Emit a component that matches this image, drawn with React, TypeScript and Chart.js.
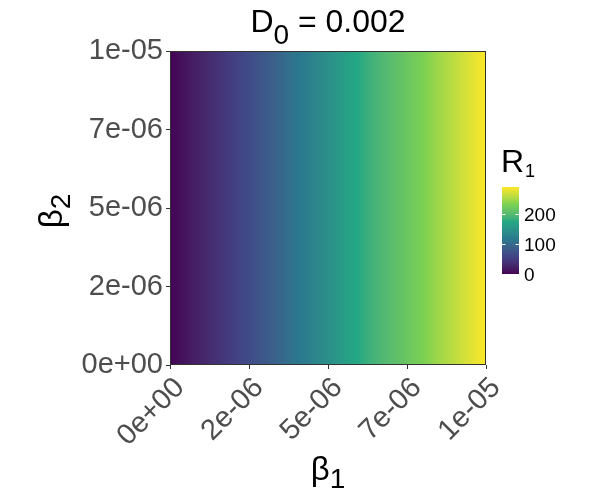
import React, { useEffect, useRef } from "react";
import { Chart, registerables } from "chart.js";

Chart.register(...registerables);

// ---- data ----
const beta1Values = [
  0, 0.5e-6, 1e-6, 1.5e-6, 2e-6, 2.5e-6, 3e-6, 3.5e-6, 4e-6, 4.5e-6, 5e-6,
  5.5e-6, 6e-6, 6.5e-6, 7e-6, 7.5e-6, 8e-6, 8.5e-6, 9e-6, 9.5e-6, 1e-5,
];
const r1Values = [
  0, 13, 26, 39, 52, 66, 81, 97, 113, 129, 144, 160, 176, 190, 203, 217, 231,
  246, 260, 275, 290,
];
const beta2Range = [0, 1e-5];
const xTickValues = [0, 2.5e-6, 5e-6, 7.5e-6, 1e-5];
const xTickLabels = ["0e+00", "2e-06", "5e-06", "7e-06", "1e-05"];
const yTickValues = [0, 2.5e-6, 5e-6, 7.5e-6, 1e-5];
const yTickLabels = ["0e+00", "2e-06", "5e-06", "7e-06", "1e-05"];
const legendTickValues = [0, 100, 200];
const legendTickLabels = ["0", "100", "200"];
const viridisStops = ["#440154", "#414487", "#2A788E", "#22A884", "#7AD151", "#FDE725"];

const FONT = "'Liberation Sans', Arial, sans-serif";
const r1Min = Math.min(...r1Values);
const r1Max = Math.max(...r1Values);

// ---- colour helpers (Lab interpolation like ggplot's gradient_n_pal) ----
function hexToLab(hex: string) {
  const h = hex.replace("#", "");
  const rgb = [0, 2, 4].map((i) => parseInt(h.slice(i, i + 2), 16) / 255);
  const lin = rgb.map((c) => (c <= 0.04045 ? c / 12.92 : Math.pow((c + 0.055) / 1.055, 2.4)));
  const [R, G, B] = lin;
  const X = (0.4124 * R + 0.3576 * G + 0.1805 * B) / 0.95047;
  const Y = 0.2126 * R + 0.7152 * G + 0.0722 * B;
  const Z = (0.0193 * R + 0.1192 * G + 0.9505 * B) / 1.08883;
  const f = (t: number) => (t > 0.008856 ? Math.cbrt(t) : 7.787 * t + 16 / 116);
  const fx = f(X), fy = f(Y), fz = f(Z);
  return [116 * fy - 16, 500 * (fx - fy), 200 * (fy - fz)];
}
function labToRgb(L: number, a: number, b: number) {
  const fy = (L + 16) / 116;
  const fx = fy + a / 500;
  const fz = fy - b / 200;
  const inv = (t: number) => (t * t * t > 0.008856 ? t * t * t : (t - 16 / 116) / 7.787);
  const X = inv(fx) * 0.95047, Y = inv(fy), Z = inv(fz) * 1.08883;
  const R = 3.2406 * X - 1.5372 * Y - 0.4986 * Z;
  const G = -0.9689 * X + 1.8758 * Y + 0.0415 * Z;
  const B = 0.0557 * X - 0.204 * Y + 1.057 * Z;
  const g = (c: number) => {
    const v = c <= 0.0031308 ? 12.92 * c : 1.055 * Math.pow(c, 1 / 2.4) - 0.055;
    return Math.round(Math.max(0, Math.min(1, v)) * 255);
  };
  return `rgb(${g(R)},${g(G)},${g(B)})`;
}
const labStops = viridisStops.map(hexToLab);
function colorAt(t: number) {
  const tt = Math.max(0, Math.min(1, t));
  const n = labStops.length - 1;
  const s = tt * n;
  const i = Math.min(Math.floor(s), n - 1);
  const f = s - i;
  const a = labStops[i], b = labStops[i + 1];
  return labToRgb(a[0] + (b[0] - a[0]) * f, a[1] + (b[1] - a[1]) * f, a[2] + (b[2] - a[2]) * f);
}
const norm = (v: number) => (v - r1Min) / (r1Max - r1Min);

function heatGradient(chart: any) {
  const { ctx, chartArea, scales } = chart;
  if (!chartArea || !scales.x) return "rgba(0,0,0,0)";
  const xs = scales.x;
  const last = beta1Values.length - 1;
  const p0 = xs.getPixelForValue(beta1Values[0]);
  const p1 = xs.getPixelForValue(beta1Values[last]);
  const g = ctx.createLinearGradient(p0, 0, p1, 0);
  const sub = 12;
  for (let i = 0; i < last; i++) {
    const pa = xs.getPixelForValue(beta1Values[i]);
    const pb = xs.getPixelForValue(beta1Values[i + 1]);
    for (let k = 0; k < sub; k++) {
      const t = k / sub;
      const px = pa + (pb - pa) * t;
      const v = r1Values[i] + (r1Values[i + 1] - r1Values[i]) * t;
      g.addColorStop((px - p0) / (p1 - p0), colorAt(norm(v)));
    }
  }
  g.addColorStop(1, colorAt(norm(r1Values[last])));
  return g;
}

type Part = { t: string; size: number; dy: number; family?: string };
function drawParts(ctx: CanvasRenderingContext2D, cx: number, y: number, parts: Part[]) {
  let total = 0;
  const widths = parts.map((p) => {
    ctx.font = `${p.size}px ${p.family || FONT}`;
    const w = ctx.measureText(p.t).width;
    total += w;
    return w;
  });
  let x = cx - total / 2;
  ctx.textAlign = "left";
  ctx.textBaseline = "alphabetic";
  parts.forEach((p, i) => {
    ctx.font = `${p.size}px ${p.family || FONT}`;
    ctx.fillText(p.t, x, y + p.dy);
    x += widths[i];
  });
}

const decorPlugin = {
  id: "decor",
  afterDatasetsDraw(chart: any) {
    const { ctx, chartArea } = chart;
    ctx.save();
    ctx.strokeStyle = "#333333";
    ctx.lineWidth = 1;
    ctx.strokeRect(chartArea.left + 0.5, chartArea.top + 0.5, chartArea.right - chartArea.left - 1, chartArea.bottom - chartArea.top - 1);
    ctx.restore();
  },
  afterDraw(chart: any) {
    const { ctx, chartArea } = chart;
    const cx = (chartArea.left + chartArea.right) / 2;
    const cy = (chartArea.top + chartArea.bottom) / 2;
    ctx.save();
    ctx.fillStyle = "#000000";
    // title
    drawParts(ctx, cx, 32, [
      { t: "D", size: 32, dy: 0 },
      { t: "0", size: 28, dy: 12 },
      { t: " = 0.002", size: 32, dy: 0 },
    ]);
    // x axis title
    drawParts(ctx, cx, 480, [
      { t: "β", size: 33, dy: 0 },
      { t: "1", size: 28, dy: 8 },
    ]);
    // y axis title (rotated)
    ctx.save();
    ctx.translate(62, cy + 3);
    ctx.rotate(-Math.PI / 2);
    drawParts(ctx, 0, 0, [
      { t: "β", size: 33, dy: 0 },
      { t: "2", size: 28, dy: 8 },
    ]);
    ctx.restore();

    // legend
    const barL = 502, barR = 519, barT = 187, barB = 274;
    const vy = (v: number) => barB - norm(v) * (barB - barT);
    const lg = ctx.createLinearGradient(0, barB, 0, barT);
    for (let k = 0; k <= 60; k++) {
      lg.addColorStop(k / 60, colorAt(k / 60));
    }
    ctx.fillStyle = lg;
    ctx.fillRect(barL, barT, barR - barL, barB - barT);
    ctx.strokeStyle = "#ffffff";
    ctx.lineWidth = 1;
    const tl = (barR - barL) / 5;
    legendTickValues.forEach((v) => {
      const y = Math.round(vy(v)) + 0.5;
      ctx.beginPath();
      ctx.moveTo(barL, y);
      ctx.lineTo(barL + tl, y);
      ctx.moveTo(barR - tl, y);
      ctx.lineTo(barR, y);
      ctx.stroke();
    });
    ctx.fillStyle = "#000000";
    ctx.font = `19px ${FONT}`;
    ctx.textAlign = "left";
    ctx.textBaseline = "middle";
    legendTickValues.forEach((v, i) => {
      ctx.fillText(legendTickLabels[i], 524, vy(v) + 2);
    });
    // legend title
    ctx.textBaseline = "alphabetic";
    ctx.font = `32px ${FONT}`;
    ctx.fillText("R", 501, 172);
    const rw = ctx.measureText("R").width;
    ctx.font = `18px ${FONT}`;
    ctx.fillText("1", 501 + rw + 1, 177);
    ctx.restore();
  },
};

export default function App() {
  const canvasRef = useRef<HTMLCanvasElement | null>(null);

  useEffect(() => {
    if (!canvasRef.current) return;
    const chart = new Chart(canvasRef.current, {
      type: "line",
      data: {
        datasets: [
          {
            label: "R1",
            data: beta1Values.map((b) => ({ x: b, y: beta2Range[1] })),
            fill: { value: beta2Range[0] },
            backgroundColor: (c: any) => heatGradient(c.chart),
            borderColor: "rgba(0,0,0,0)",
            borderWidth: 0,
            pointRadius: 0,
            tension: 0,
          } as any,
        ],
      },
      options: {
        animation: false,
        responsive: false,
        devicePixelRatio: 1,
        events: [],
        layout: { padding: { top: 51, right: 114, bottom: 0, left: 0 } },
        plugins: { legend: { display: false }, title: { display: false }, tooltip: { enabled: false } },
        scales: {
          x: {
            type: "linear",
            min: 0,
            max: 1e-5,
            afterBuildTicks: (s: any) => {
              s.ticks = xTickValues.map((v) => ({ value: v }));
            },
            afterFit: (s: any) => {
              s.height = 135;
            },
            grid: { drawOnChartArea: false, drawTicks: true, tickLength: 4, color: "#333333", tickColor: "#333333" },
            border: { display: false },
            ticks: {
              autoSkip: false,
              minRotation: 45,
              maxRotation: 45,
              padding: 2,
              labelOffset: 10,
              color: "#4D4D4D",
              font: { family: FONT, size: 29 },
              callback: (v: any) => {
                const i = xTickValues.indexOf(Number(v));
                return i >= 0 ? xTickLabels[i] : "";
              },
            },
          },
          y: {
            type: "linear",
            min: 0,
            max: 1e-5,
            afterBuildTicks: (s: any) => {
              s.ticks = yTickValues.map((v) => ({ value: v }));
            },
            afterFit: (s: any) => {
              s.width = 170;
            },
            grid: { drawOnChartArea: false, drawTicks: true, tickLength: 4, color: "#333333", tickColor: "#333333" },
            border: { display: false },
            ticks: {
              autoSkip: false,
              padding: 3,
              color: "#4D4D4D",
              font: { family: FONT, size: 29 },
              callback: (v: any) => {
                const i = yTickValues.indexOf(Number(v));
                return i >= 0 ? yTickLabels[i] : "";
              },
            },
          },
        },
      } as any,
      plugins: [decorPlugin],
    });
    return () => chart.destroy();
  }, []);

  return (
    <div style={{ position: "absolute", left: 0, top: 0, width: 600, height: 500, background: "#ffffff" }}>
      <canvas ref={canvasRef} width={600} height={500} style={{ display: "block", width: 600, height: 500 }} />
    </div>
  );
}
